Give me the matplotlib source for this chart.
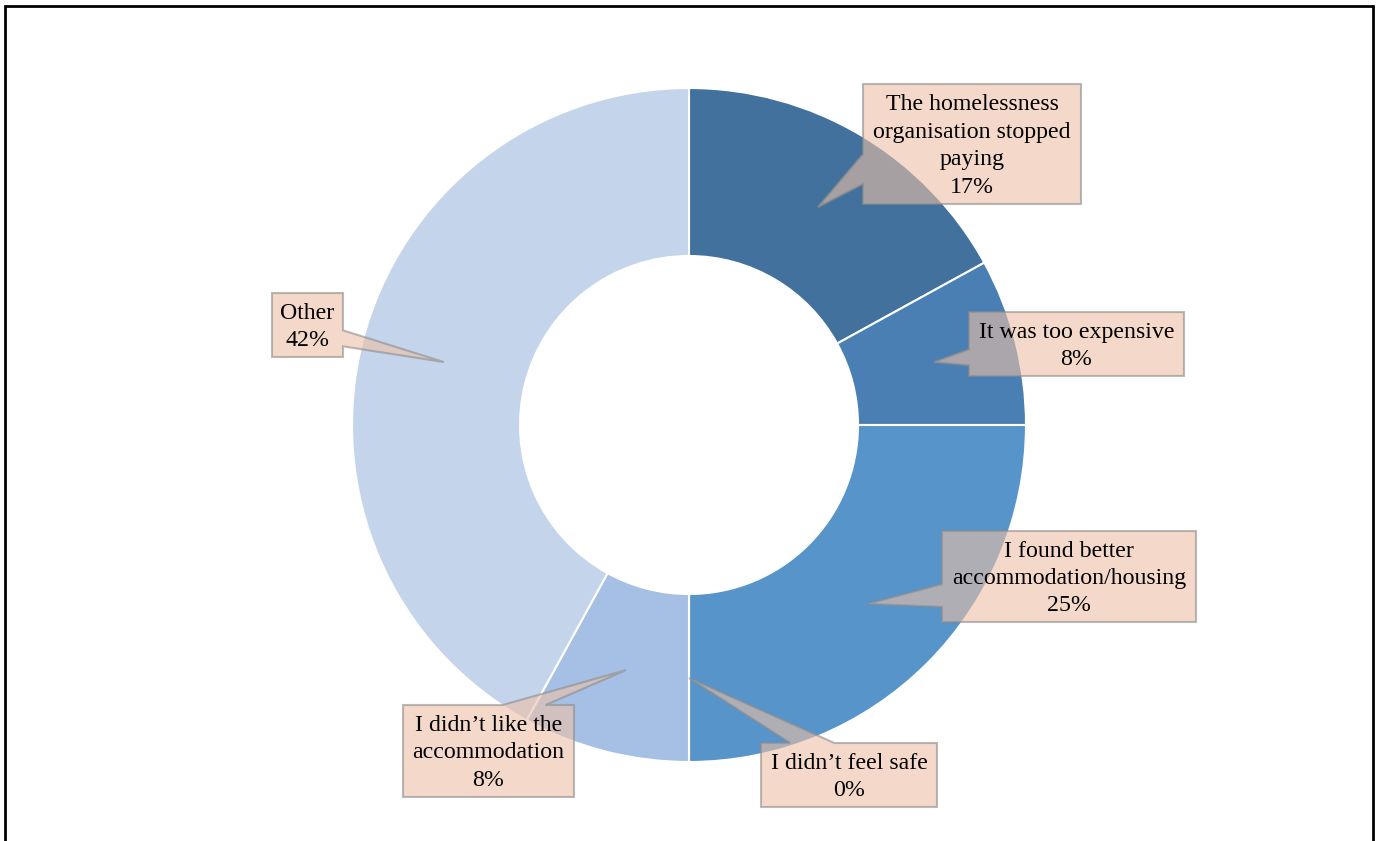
import numpy as np
import matplotlib.pyplot as plt
from matplotlib.patches import Polygon

# reasons for leaving the accommodation (percent of respondents)
reasons = ["The homelessness\norganisation stopped\npaying",
           "It was too expensive",
           "I found better\naccommodation/housing",
           "I didn\u2019t feel safe",
           "I didn\u2019t like the\naccommodation",
           "Other"]
percents = [17, 8, 25, 0, 8, 42]
colors = ["#41719C", "#4A7FB4", "#5694CA", "#4F8AC0", "#A5C0E4", "#C4D4EA"]

# label boxes (left, top, right, bottom) in pixels from the top-left corner
boxes = [(863, 84, 1081, 204),
         (969, 312, 1184, 376),
         (942, 531, 1196, 622),
         (761, 743, 937, 807),
         (403, 705, 574, 797),
         (272, 293, 343, 357)]

W, H = 1378, 841
fig = plt.figure(figsize=(W / 100, H / 100), dpi=100)
ax = fig.add_axes([0, 0, 1, 1])

cx, cy = 689, H - 425
R, ring = 337, 168
wedges, _ = ax.pie(percents, colors=colors, startangle=90, counterclock=False,
                   radius=R, center=(cx, cy),
                   wedgeprops=dict(width=ring, edgecolor="white", linewidth=1.5))


def callout(box, tip):
    x0, y0, x1, y1 = box
    tx, ty = tip
    w, h = x1 - x0, y1 - y0
    bx, by = (x0 + x1) / 2, (y0 + y1) / 2
    dx, dy = (tx - bx) / w, (ty - by) / h
    pts = [(x0, y0), (x1, y0), (x1, y1), (x0, y1)]
    if abs(dx) >= abs(dy):
        b0, b1 = (y0 + h * 7 / 12, y0 + h * 10 / 12) if ty > by else (y0 + h * 2 / 12, y0 + h * 5 / 12)
        if dx < 0:
            pts = pts + [(x0, b1), (tx, ty), (x0, b0)]
        else:
            pts = pts[:2] + [(x1, b0), (tx, ty), (x1, b1)] + pts[2:]
    else:
        b0, b1 = (x0 + w * 7 / 12, x0 + w * 10 / 12) if tx > bx else (x0 + w * 2 / 12, x0 + w * 5 / 12)
        if dy < 0:
            pts = pts[:1] + [(b0, y0), (tx, ty), (b1, y0)] + pts[1:]
        else:
            pts = pts[:3] + [(b1, y1), (tx, ty), (b0, y1)] + pts[3:]
    return [(x, H - y) for x, y in pts]


for wdg, name, pct, box in zip(wedges, reasons, percents, boxes):
    mid = np.radians((wdg.theta1 + wdg.theta2) / 2)
    r = R - ring / 2
    tip = (cx + r * np.cos(mid), H - (cy + r * np.sin(mid)))
    ax.add_patch(Polygon(callout(box, tip), closed=True, facecolor="#EDC1A7",
                         alpha=0.6, edgecolor="#8C8C8C", linewidth=1.5, zorder=3))
    ax.text((box[0] + box[2]) / 2, H - (box[1] + box[3]) / 2 - 2, f"{name}\n{pct}%",
            ha="center", va="center", fontsize=17.2, family="Liberation Serif",
            linespacing=1.4, color="black", zorder=4)

# outer frame
ax.plot([5, 5, 1373, 1373], [0, H - 6, H - 6, 0], color="black", linewidth=2,
        solid_joinstyle="miter", zorder=5)

ax.set_xlim(0, W)
ax.set_ylim(0, H)
ax.set_aspect("auto")
ax.axis("off")
fig.savefig("out.png", dpi=100, facecolor="white")
